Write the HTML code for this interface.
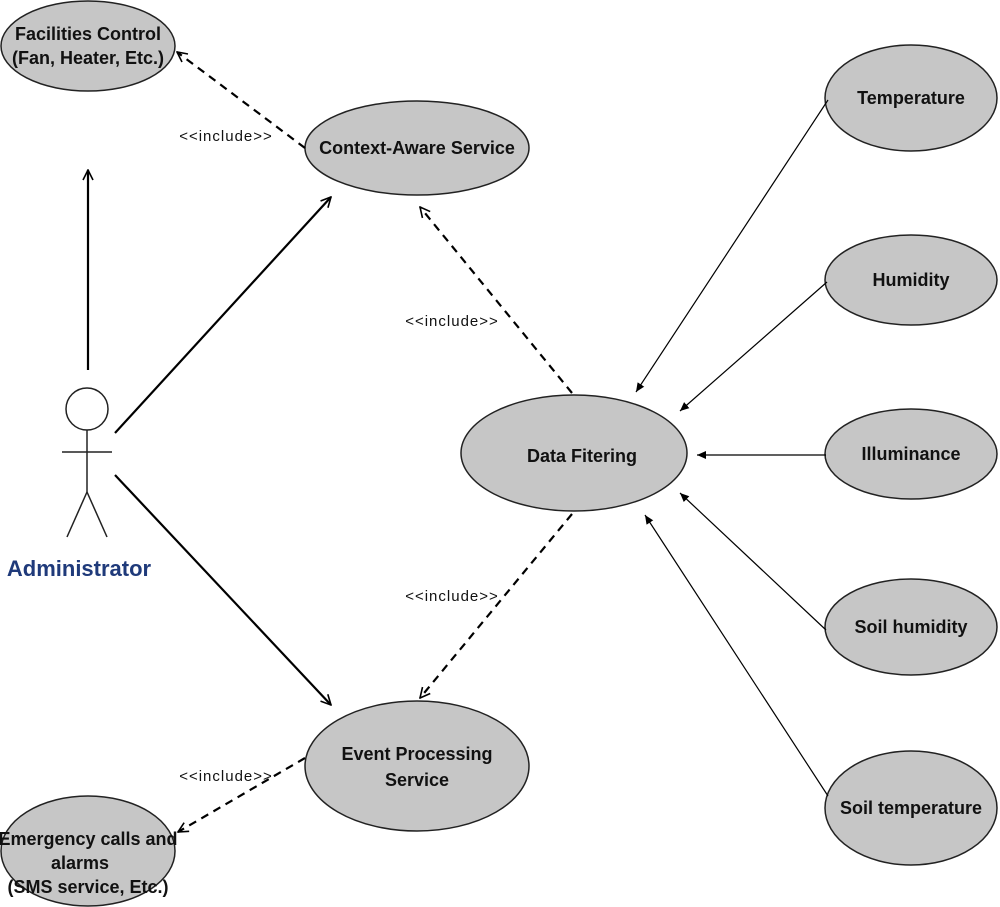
<!DOCTYPE html>
<html><head><meta charset="utf-8"><style>
html,body{margin:0;padding:0;background:#fff}
svg{display:block}
.e{fill:#c6c6c6;stroke:#222;stroke-width:1.5}
.t{font-family:"Liberation Sans",sans-serif;font-size:18px;font-weight:bold;fill:#111;text-anchor:middle}
.i{font-family:"Liberation Sans",sans-serif;font-size:15px;fill:#111;text-anchor:middle;letter-spacing:1px}
</style></head><body>
<svg width="1000" height="907" viewBox="0 0 1000 907" xmlns="http://www.w3.org/2000/svg">
<defs>
<marker id="o" viewBox="0 0 12 12" refX="11" refY="6" markerWidth="12" markerHeight="12" markerUnits="userSpaceOnUse" orient="auto"><path d="M1,1 L11,6 L1,11" fill="none" stroke="#000" stroke-width="1.6"/></marker>
<marker id="s" viewBox="0 0 10 10" refX="9" refY="5" markerWidth="10" markerHeight="10" markerUnits="userSpaceOnUse" orient="auto"><path d="M0,1 L9,5 L0,9 Z" fill="#000"/></marker>
</defs>
<ellipse class="e" cx="88" cy="46" rx="87" ry="45"/>
<text class="t" x="88" y="40">Facilities Control</text>
<text class="t" x="88" y="64">(Fan, Heater, Etc.)</text>
<ellipse class="e" cx="417" cy="148" rx="112" ry="47"/>
<text class="t" x="417" y="154">Context-Aware Service</text>
<ellipse class="e" cx="574" cy="453" rx="113" ry="58"/>
<text class="t" x="582" y="462">Data Fitering</text>
<ellipse class="e" cx="417" cy="766" rx="112" ry="65"/>
<text class="t" x="417" y="760">Event Processing</text>
<text class="t" x="417" y="786">Service</text>
<ellipse class="e" cx="88" cy="851" rx="87" ry="55"/>
<text class="t" x="88" y="845">Emergency calls and</text>
<text class="t" x="80" y="869">alarms</text>
<text class="t" x="88" y="893">(SMS service, Etc.)</text>
<ellipse class="e" cx="911" cy="98" rx="86" ry="53"/>
<text class="t" x="911" y="104">Temperature</text>
<ellipse class="e" cx="911" cy="280" rx="86" ry="45"/>
<text class="t" x="911" y="286">Humidity</text>
<ellipse class="e" cx="911" cy="454" rx="86" ry="45"/>
<text class="t" x="911" y="460">Illuminance</text>
<ellipse class="e" cx="911" cy="627" rx="86" ry="48"/>
<text class="t" x="911" y="633">Soil humidity</text>
<ellipse class="e" cx="911" cy="808" rx="86" ry="57"/>
<text class="t" x="911" y="814">Soil temperature</text>
<circle cx="87" cy="409" r="21" fill="#fff" stroke="#222" stroke-width="1.5"/>
<g stroke="#222" stroke-width="1.5" fill="none">
<line x1="87" y1="430" x2="87" y2="492"/>
<line x1="62" y1="452" x2="112" y2="452"/>
<line x1="87" y1="492" x2="67" y2="537"/>
<line x1="87" y1="492" x2="107" y2="537"/>
</g>
<text x="79" y="576" style="font-family:'Liberation Sans',sans-serif;font-size:22px;font-weight:bold;fill:#1f3a7a;text-anchor:middle">Administrator</text>
<g stroke="#000" stroke-width="2.2" fill="none">
<line x1="88" y1="370" x2="88" y2="170" marker-end="url(#o)"/>
<line x1="115" y1="433" x2="331" y2="197" marker-end="url(#o)"/>
<line x1="115" y1="475" x2="331" y2="705" marker-end="url(#o)"/>
</g>
<g stroke="#000" stroke-width="2.2" fill="none" stroke-dasharray="8,6">
<line x1="305" y1="148" x2="177" y2="52" marker-end="url(#o)"/>
<line x1="572" y1="393" x2="420" y2="207" marker-end="url(#o)"/>
<line x1="572" y1="514" x2="420" y2="698" marker-end="url(#o)"/>
<line x1="305" y1="758" x2="178" y2="832" marker-end="url(#o)"/>
</g>
<text class="i" x="226" y="141">&lt;&lt;include&gt;&gt;</text>
<text class="i" x="452" y="326">&lt;&lt;include&gt;&gt;</text>
<text class="i" x="452" y="601">&lt;&lt;include&gt;&gt;</text>
<text class="i" x="226" y="781">&lt;&lt;include&gt;&gt;</text>
<g stroke="#000" stroke-width="1.2" fill="none">
<line x1="828" y1="100" x2="636" y2="392" marker-end="url(#s)"/>
<line x1="827" y1="282" x2="680" y2="411" marker-end="url(#s)"/>
<line x1="826" y1="455" x2="697" y2="455" marker-end="url(#s)"/>
<line x1="826" y1="630" x2="680" y2="493" marker-end="url(#s)"/>
<line x1="828" y1="796" x2="645" y2="515" marker-end="url(#s)"/>
</g>
</svg>
</body></html>
